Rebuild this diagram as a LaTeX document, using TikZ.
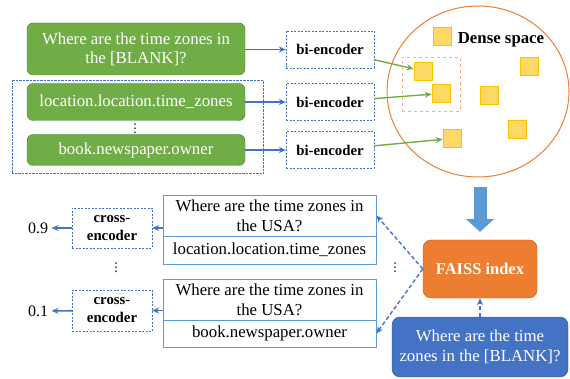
\documentclass[tikz,border=0pt]{standalone}
\usepackage{fontspec}
\setmainfont{Liberation Serif}
\newfontfamily\symfont{DejaVu Sans}
\usetikzlibrary{arrows.meta,shapes.geometric}
\definecolor{fgreen}{HTML}{70AD47}
\definecolor{dgreen}{HTML}{507E32}
\definecolor{forange}{HTML}{ED7D31}
\definecolor{dorange}{HTML}{C55A11}
\definecolor{fblue}{HTML}{4472C4}
\definecolor{dblue}{HTML}{2F528F}
\definecolor{lblue}{HTML}{5B9BD5}
\definecolor{pale}{HTML}{F4B183}
\definecolor{sq}{HTML}{FFD966}
\definecolor{sqline}{HTML}{FFC000}
\begin{document}
\begin{tikzpicture}[x=1pt,y=-1pt,>={Stealth[length=7pt,width=6pt]},
    txt/.style={font=\fontsize{16.8}{19}\selectfont},
    gbox/.style={txt,rounded corners=6pt,fill=fgreen,draw=dgreen,text=white,align=center,inner sep=0pt,minimum width=218pt},
    enc/.style={draw=fblue,dash pattern=on 2pt off 1.5pt,fill=white,inner sep=0pt,align=center,font=\fontsize{14.8}{18}\selectfont\bfseries},
    vec/.style={draw=sqline,fill=sq,minimum size=18pt,inner sep=0pt,line width=0.8pt},
    tbox/.style={txt,draw=lblue,line width=0.8pt,minimum width=213pt,inner sep=0pt,align=center},
    vdots/.style={font=\symfont\fontsize{12}{12}\selectfont,inner sep=0pt},
    barrow/.style={->,fblue,line width=1.6pt},
    darrow/.style={->,fblue,line width=1.4pt,dash pattern=on 4pt off 2.5pt}]
    \useasboundingbox (0,0) rectangle (570,379);
    % inputs
    \node [gbox,minimum height=52pt] (q0) at (136,49) {Where are the time zones in\\the [BLANK]?};
    \node [draw=fblue,densely dotted,minimum width=251pt,minimum height=93pt,inner sep=0pt] (grp) at (137.5,126.5) {};
    \node [gbox,minimum height=37pt] (ln) at (136,102) {location.location.time\_zones};
    \node [gbox,minimum height=31pt] (bk) at (136,150) {book.newspaper.owner};
    \node [vdots] (v1) at (135,129) {⋮};
    \node [enc,minimum width=88pt,minimum height=37pt] (be1) at (330,49.5) {bi-encoder};
    \node [enc,minimum width=88pt,minimum height=37pt] (be2) at (330,102) {bi-encoder};
    \node [enc,minimum width=88pt,minimum height=37pt] (be3) at (330,150) {bi-encoder};
    \draw [barrow] (q0.east |- be1) -- (be1);
    \draw [barrow] (ln) -- (be2);
    \draw [barrow] (bk.east |- be3) -- (be3);
    % dense space
    \node [ellipse,draw=forange,line width=1pt,minimum width=182pt,minimum height=171pt] (space) at (478,91.5) {};
    \node [font=\fontsize{16.8}{19}\selectfont\bfseries] (dl) at (501,40) {Dense space};
    \node [draw=pale,dashed,line width=0.8pt,minimum width=58pt,minimum height=54pt] (near) at (431,84) {};
    \node [vec] (s1) at (442,36.5) {};
    \node [vec] (s2) at (423,71) {};
    \node [vec] (s3) at (441,93.5) {};
    \node [vec] (s4) at (489,95.5) {};
    \node [vec] (s5) at (529,66.5) {};
    \node [vec] (s6) at (517,129.5) {};
    \node [vec] (s7) at (452,138.5) {};
    \draw [->,fgreen,line width=1.4pt] (be1) -- (s2);
    \draw [->,fgreen,line width=1.4pt] (be2) -- (s3);
    \draw [->,fgreen,line width=1.4pt] (be3) -- (s7);
    % retrieval
    \node [txt,rounded corners=8pt,fill=forange,draw=dorange,text=white,font=\fontsize{16.5}{19}\selectfont\bfseries,minimum width=114pt,minimum height=58pt] (faiss) at (480,269) {FAISS index};
    \node [txt,rounded corners=8pt,fill=fblue,draw=dblue,text=white,align=center,font=\fontsize{16.8}{20}\selectfont,minimum width=176pt,minimum height=60pt,inner sep=0pt] (qb) at (480,347) {Where are the time\\zones in the [BLANK]?};
    \draw [lblue,line width=13pt,-{Triangle[length=13pt,width=28pt]},shorten >=8pt] ([yshift=-10pt]faiss.north |- space.south) -- (faiss.north);
    \draw [darrow] (qb) -- (faiss);
    % reranking
    \node [tbox,font=\fontsize{16.8}{20}\selectfont,minimum height=41pt] (q1) at (269.5,215.5) {Where are the time zones in\\the USA?};
    \node [tbox,minimum height=28pt] (r1) at (269.5,250) {location.location.time\_zones};
    \node [tbox,font=\fontsize{16.8}{20}\selectfont,minimum height=41pt] (q2) at (269.5,299.5) {Where are the time zones in\\the USA?};
    \node [tbox,minimum height=27pt] (r2) at (269.5,333.5) {book.newspaper.owner};
    \node [vdots] (v2) at (395,268) {⋮};
    \draw [darrow] (faiss.west) -- (q1.east);
    \draw [darrow] (faiss.west) -- (r2.east);
    \node [enc,minimum width=80pt,minimum height=40pt] (ce1) at (112,228) {cross-\\encoder};
    \node [enc,minimum width=80pt,minimum height=41pt] (ce2) at (112,310.5) {cross-\\encoder};
    \node [vdots] (v3) at (116,268) {⋮};
    \node [txt,font=\fontsize{16}{18}\selectfont] (sc1) at (38,228) {0.9};
    \node [txt,font=\fontsize{16}{18}\selectfont] (sc2) at (38,311) {0.1};
    \draw [barrow] (q1.west |- ce1) -- (ce1);
    \draw [barrow] (q2.west |- ce2) -- (ce2);
    \draw [barrow] (ce1) -- (sc1);
    \draw [barrow] (ce2) -- (sc2);
\end{tikzpicture}
\end{document}
